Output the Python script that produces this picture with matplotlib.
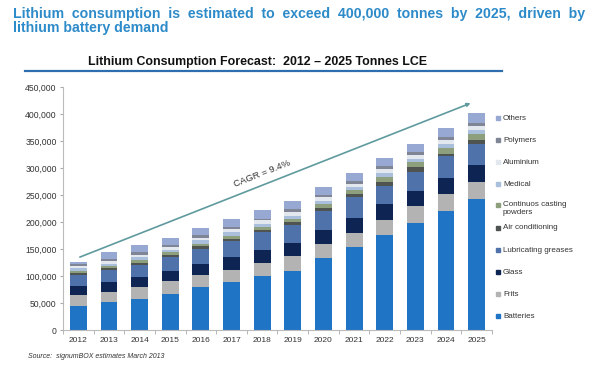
import matplotlib
matplotlib.use("Agg")
import matplotlib.pyplot as plt
import numpy as np

years = ["2012", "2013", "2014", "2015", "2016", "2017", "2018",
         "2019", "2020", "2021", "2022", "2023", "2024", "2025"]

# values in tonnes LCE
batteries   = [45000, 51000, 57000, 67000, 79000, 89000, 100000, 110000, 133000, 153000, 176000, 199000, 220000, 242000]
frits       = [20000, 20000, 22000, 23000, 23000, 23000, 25000, 27000, 27000, 27000, 28000, 31000, 32000, 32000]
glass       = [16000, 18000, 19000, 20000, 20000, 23000, 23000, 24000, 26000, 28000, 29000, 27000, 30000, 31000]
lubricating = [20000, 22000, 23000, 25000, 28000, 30000, 34000, 33000, 34000, 39000, 33000, 36000, 40000, 40000]
air_cond    = [5000, 3000, 4000, 4000, 5000, 4000, 4000, 6000, 6000, 4000, 9000, 8000, 4000, 7000]
casting     = [4000, 4000, 5000, 5000, 5000, 6000, 5000, 6000, 7000, 8000, 9000, 10000, 11000, 11000]
medical     = [4000, 5000, 5000, 4000, 6000, 6000, 6000, 6000, 5000, 6000, 6000, 6000, 7000, 7000]
aluminium   = [4000, 5000, 4000, 5000, 5000, 6000, 6000, 6000, 8000, 6000, 8000, 7000, 7000, 8000]
polymers    = [4000, 4000, 5000, 4000, 5000, 4000, 3000, 6000, 4000, 5000, 6000, 6000, 6000, 6000]
others      = [4000, 12000, 14000, 14000, 13000, 14000, 17000, 14000, 15000, 15000, 15000, 15000, 17000, 17000]

series_names = ["Batteries", "Frits", "Glass", "Lubricating greases", "Air conditioning",
                "Continuos casting\npowders", "Medical", "Aluminium", "Polymers", "Others"]
series_vals = [batteries, frits, glass, lubricating, air_cond, casting, medical,
               aluminium, polymers, others]
colors = ["#1f74c6", "#b3b3b3", "#0e2452", "#5072aa", "#4f5450",
          "#8d9f7c", "#a9bfdc", "#e3e8ef", "#7f8594", "#97a9d2"]

yticks = [0, 50000, 100000, 150000, 200000, 250000, 300000, 350000, 400000, 450000]
ytick_labels = ["0", "50,000", "100,000", "150,000", "200,000", "250,000",
                "300,000", "350,000", "400,000", "450,000"]

plt.rcParams['font.family'] = ['Liberation Sans', 'DejaVu Sans']

W, H = 600, 367
fig = plt.figure(figsize=(6.0, 3.67), dpi=100)

ax = fig.add_axes([63 / W, 1 - 330 / H, (492 - 63) / W, (330 - 87) / H])
x = np.arange(len(years))
bottom = np.zeros(len(years))
for name, vals, c in zip(series_names, series_vals, colors):
    v = np.array(vals, dtype=float)
    ax.bar(x, v, 0.55, bottom=bottom, color=c, label=name, edgecolor="none")
    bottom += v

ax.set_xlim(-0.5, len(years) - 0.5)
ax.set_ylim(0, 450000)
ax.set_yticks(yticks)
ax.set_yticklabels(ytick_labels, fontsize=6.2, color="#333333")
ax.set_xticks(x)
ax.set_xticklabels(years, fontsize=6.0, color="#333333")
ax.tick_params(axis="x", length=0, pad=5)
ax.set_xticks(np.arange(-0.5, len(years), 1), minor=True)
ax.tick_params(axis="x", which="minor", length=3, color="#aaaaaa")
ax.tick_params(axis="y", length=2.5, color="#aaaaaa", pad=2)
for s in ["top", "right"]:
    ax.spines[s].set_visible(False)
for s in ["left", "bottom"]:
    ax.spines[s].set_color("#bbbbbb")
    ax.spines[s].set_linewidth(0.8)

# CAGR arrow
ax.annotate("", xy=(12.8, 420000), xytext=(0.05, 135000),
            arrowprops=dict(arrowstyle="-|>", color="#5f9a9e", lw=1.2,
                            mutation_scale=5, shrinkA=0, shrinkB=0))
ax.text(6.0, 290000, "CAGR = 9.4%", rotation=21.5, fontsize=6.8, color="#333333",
        ha="center", va="center", rotation_mode="anchor")

# legend drawn manually (top to bottom)
leg_ys = [118, 140, 162, 184, 205, 228, 250, 272, 294, 316]
for yc, name, c in zip(leg_ys, series_names[::-1], colors[::-1]):
    fig.patches.append(plt.Rectangle((496 / W, 1 - (yc + 2) / H), 4 / W, 4 / H,
                                     transform=fig.transFigure, color=c, zorder=3))
    if "\n" in name:
        fig.text(503 / W, 1 - (yc - 4) / H, name, fontsize=5.8, color="#333333",
                 ha="left", va="top", linespacing=1.15)
    else:
        fig.text(503 / W, 1 - yc / H, name, fontsize=5.8, color="#333333",
                 ha="left", va="center")

# headline
fig.text(13 / W, 1 - 14 / H,
         "Lithium  consumption  is  estimated  to  exceed  400,000  tonnes  by  2025,  driven  by",
         fontsize=10.2, fontweight="bold", color="#2e8bc9", ha="left", va="center")
fig.text(13 / W, 1 - 28 / H, "lithium battery demand",
         fontsize=10.2, fontweight="bold", color="#2e8bc9", ha="left", va="center")

# chart title + rule
fig.text(258 / W, 1 - 62 / H, "Lithium Consumption Forecast:  2012 \u2013 2025 Tonnes LCE",
         fontsize=8.9, fontweight="bold", color="#111111", ha="center", va="center")
fig.add_artist(plt.Line2D([25 / W, 502 / W], [1 - 70.5 / H, 1 - 70.5 / H],
                          transform=fig.transFigure, color="#2f6eae", lw=1.6))

# source
fig.text(28 / W, 1 - 357 / H, "Source:  signumBOX estimates March 2013",
         fontsize=5.0, style="italic", color="#333333", ha="left", va="center")

fig.savefig("out.png", dpi=100)
